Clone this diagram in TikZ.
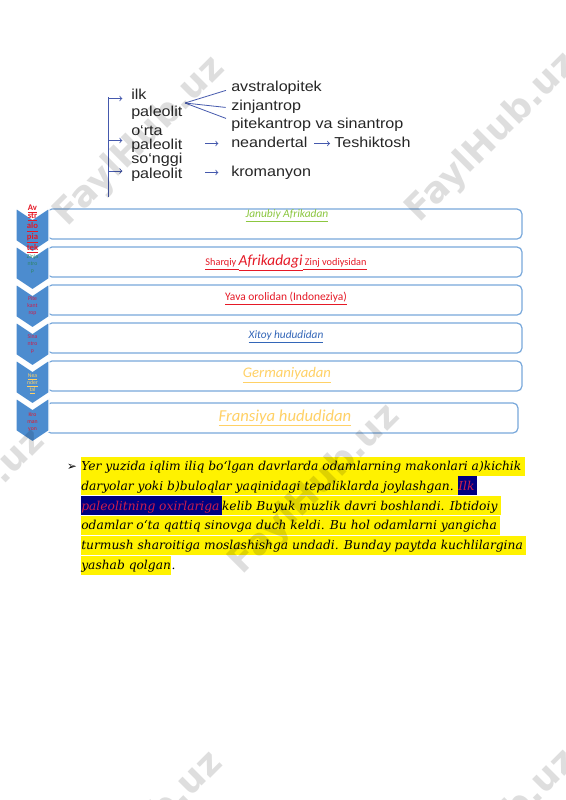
\documentclass[tikz,border=0pt]{standalone}
\usepackage{fontspec}
\setmainfont{Liberation Sans}
\newfontfamily\treefont[FakeStretch=1.12]{Liberation Sans}
\newfontfamily\barfont{Carlito}
\newfontfamily\parafont{DejaVu Serif}
\newfontfamily\symfont{DejaVu Sans}
\usepackage{tikz}
\usetikzlibrary{positioning}
\definecolor{spine}{rgb}{0.27,0.35,0.68}
\definecolor{chev}{rgb}{0.30,0.55,0.81}
\definecolor{barline}{rgb}{0.47,0.66,0.86}
\definecolor{grn}{rgb}{0.55,0.78,0.25}
\definecolor{rd}{rgb}{0.90,0.10,0.15}
\definecolor{crim}{rgb}{0.80,0.12,0.30}
\definecolor{zgreen}{rgb}{0.18,0.52,0.40}
\definecolor{xblue}{rgb}{0.20,0.40,0.72}
\definecolor{ylw}{rgb}{1,0.82,0.40}
\definecolor{navybox}{rgb}{0,0,0.5}
\definecolor{treetext}{rgb}{0.15,0.15,0.15}

\begin{document}
\begin{tikzpicture}[x=0.75pt,y=-0.75pt,
    every node/.style={inner sep=0pt},
    tree/.style={anchor=base west,text=treetext,font=\treefont\fontsize{10.8}{10.8}\selectfont,
      text height=8pt,text depth=2pt},
    link/.style={spine,line width=0.6pt},
    bar/.style={draw=barline,line width=0.9pt,fill=white,rounded corners=3.75pt,
      minimum width=356.25pt,minimum height=22.5pt},
    chevtext/.style={align=center,font=\barfont\fontsize{4.3}{5.4}\selectfont},
    hl/.style={anchor=west,fill=yellow,text height=10.5pt,text depth=3.75pt,
      font=\parafont\itshape\fontsize{9.2}{10}\selectfont},
    hlnavy/.style={hl,fill=navybox,text=crim},
    wmark/.style={rotate=45,opacity=0.13,font=\symfont\bfseries\fontsize{27}{27}\selectfont}]
  \useasboundingbox (0,0) rectangle (565,800);
  \fill[white] (0,0) rectangle (565,800);

  \node[tree] (ilk) at (131,99) {ilk};
  \node[tree] (pal1) at (131,116) {paleolit};
  \node[tree] (orta) at (131,135.5) {o‘rta};
  \node[tree] (pal2) at (131,149.5) {paleolit};
  \node[tree] (songgi) at (131,163.5) {so‘nggi};
  \node[tree] (pal3) at (131,178.5) {paleolit};
  \node[tree] (avs) at (231,91.5) {avstralopitek};
  \node[tree] (zin) at (231,110) {zinjantrop};
  \node[tree] (pit) at (231,128.3) {pitekantrop va sinantrop};
  \node[tree] (nea) at (231,147.5) {neandertal};
  \node[tree] (tes) at (334,147.5) {Teshiktosh};
  \node[tree] (kro) at (231,176.5) {kromanyon};

  \coordinate (top) at (108.5,97);
  \coordinate (bot) at (108.5,197);
  \coordinate (s1) at (108.5,98.5);
  \coordinate (s2) at (108.5,140.5);
  \coordinate (s3) at (108.5,171);
  \coordinate (fan) at (185,103);
  \draw[link] (top) -- (bot);
  \draw[link,->,shorten >=6.5pt] (s1) -- (s1 -| ilk.west);
  \draw[link,->,shorten >=6.5pt] (s2) -- (s2 -| pal2.west);
  \draw[link,->,shorten >=6.5pt] (s3) -- (s3 -| pal3.west);
  \draw[link,shorten >=4pt] (fan) -- ([yshift=-1pt]avs.west);
  \draw[link,shorten >=4pt] (fan) -- ([yshift=-1.5pt]zin.west);
  \draw[link,shorten >=4pt] (fan) -- ([yshift=3pt]pit.west);
  \draw[link,->,shorten <=17pt,shorten >=9.5pt] (nea.west -| pal2.east) -- (nea.west);
  \draw[link,->,shorten <=17pt,shorten >=9.5pt] (kro.west -| pal3.east) -- (kro.west);
  \draw[link,->,shorten <=5pt,shorten >=3pt] (nea.east) -- (tes.west);

  \node[bar] (bar1) at (284.5,224) {};
  \node[bar] (bar2) at (284.5,262) {};
  \node[bar] (bar3) at (284.5,300) {};
  \node[bar] (bar4) at (284.5,338) {};
  \node[bar] (bar5) at (284.5,376) {};
  \node[bar,minimum width=354pt] (bar6) at (282,418) {};

  \foreach \i in {0,...,5}
    \fill[chev,draw=white,line width=1.1pt] (16,208+38*\i) -- (32.5,219+38*\i) -- (49,208+38*\i)
      -- (49,241+38*\i) -- (32.5,252+38*\i) -- (16,241+38*\i) -- cycle;

  \node[chevtext,text=rd,font=\barfont\bfseries\fontsize{6.5}{6.3}\selectfont] (avch) at (32.5,229)
    {\underline{Av}\\\underline{str}\\\underline{alo}\\\underline{pia}\\\underline{tek}};
  \node[chevtext,text=zgreen] (zich) at (32.5,264) {Zinja\\ntro\\p};
  \node[chevtext,text=crim] (pich) at (32.5,306) {Pite\\kant\\rop};
  \node[chevtext,text=crim] (sich) at (32.5,344) {Sina\\ntro\\p};
  \node[chevtext,text=ylw] (nech) at (32.5,384) {\underline{Nea}\\\underline{nder}\\\underline{tal}};
  \node[chevtext,text=rd] (krch) at (32.5,422) {Kro\\man\\yon};

  \node[font=\barfont\itshape\fontsize{8.6}{8.6}\selectfont,text=grn] (jan) at (287,216)
    {\underline{Janubiy Afrikadan}};
  \node[font=\barfont,text=rd] (sha) at (286,263)
    {\fontsize{7.7}{7.7}\selectfont\underline{Sharqiy }\fontsize{11.5}{11.5}\selectfont\itshape\underline{Afrikadagi}\upshape\fontsize{7.7}{7.7}\selectfont\underline{ Zinj vodiysidan}};
  \node[font=\barfont\fontsize{8.6}{8.6}\selectfont,text=rd] (yav) at (286,299)
    {\underline{Yava orolidan (Indoneziya)}};
  \node[font=\barfont\itshape\fontsize{8.5}{8.5}\selectfont,text=xblue] (xit) at (286,337)
    {\underline{Xitoy hududidan}};
  \node[font=\barfont\itshape\fontsize{11}{11}\selectfont,text=ylw] (ger) at (287,375)
    {\underline{Germaniyadan}};
  \node[font=\barfont\itshape\fontsize{12.5}{12.5}\selectfont,text=ylw] (fra) at (285,418)
    {\underline{Fransiya hududidan}};

  \node[font=\symfont\fontsize{9}{9}\selectfont] (bul) at (72,467) {➢};
  \node[hl] (p1) at (81,466) {Yer yuzida iqlim iliq bo‘lgan davrlarda odamlarning makonlari a)kichik\kern2.5pt};
  \node[hl] (p2a) at (81,485.8) {daryolar yoki b)buloqlar yaqinidagi tepaliklarda joylashgan.\kern3pt};
  \node[hlnavy,right=0pt of p2a] (p2b) {Ilk\kern2pt};
  \node[hlnavy] (p3a) at (81,505.6) {paleolitning oxirlariga\kern1.5pt};
  \node[hl,right=0pt of p3a] (p3b) {kelib Buyuk muzlik davri boshlandi. Ibtidoiy\kern2.5pt};
  \node[hl] (p4) at (81,525.4) {odamlar o‘ta qattiq sinovga duch keldi. Bu hol odamlarni yangicha\kern2.5pt};
  \node[hl] (p5) at (81,545.2) {turmush sharoitiga moslashishga undadi. Bunday paytda kuchlilargina\kern2.5pt};
  \node[hl] (p6a) at (81,565) {yashab qolgan};
  \node[hl,fill=none,right=0pt of p6a] (p6b) {.};

  \foreach \wx/\wy [count=\k] in {140/142,492/138,-40/515,315/490,138/837,492/835}
    \node[wmark] (wm\k) at (\wx,\wy) {FaylHub.uz};
\end{tikzpicture}
\end{document}
